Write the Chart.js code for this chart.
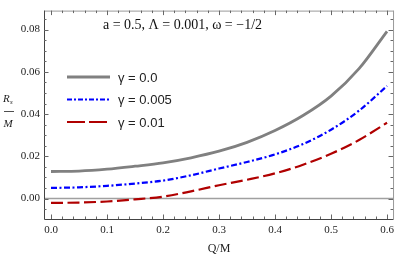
<!DOCTYPE html>
<html>
<head>
<meta charset="utf-8">
<script src="https://cdn.jsdelivr.net/npm/chart.js@4.4.1/dist/chart.umd.min.js"></script>
<style>
html,body{margin:0;padding:0;background:#fff;}
#wrap{width:399px;height:256px;position:relative;}
</style>
</head>
<body>
<div id="wrap"><canvas id="c" width="399" height="256"></canvas></div>
<script>
// ---- data ----
const qValues   = [0, 0.05, 0.1, 0.15, 0.2, 0.25, 0.3, 0.35, 0.4, 0.45, 0.5, 0.55, 0.6];
const gamma0    = [0.0128, 0.0130, 0.0139, 0.0153, 0.0169, 0.0193, 0.0224, 0.0266, 0.0322, 0.0393, 0.0485, 0.0615, 0.0792];
const gamma005  = [0.0050, 0.0053, 0.0060, 0.0071, 0.0085, 0.0110, 0.0142, 0.0173, 0.0209, 0.0258, 0.0326, 0.0416, 0.0533];
const gamma01   = [-0.0021, -0.0019, -0.0014, -0.0004, 0.0009, 0.0034, 0.0063, 0.0089, 0.0119, 0.0160, 0.0212, 0.0277, 0.0359];
const seriesLabels = ['\u03B3 = 0.0', '\u03B3 = 0.005', '\u03B3 = 0.01'];
const xTicks = [0, 0.1, 0.2, 0.3, 0.4, 0.5, 0.6];
const xMinor = [0.02,0.04,0.06,0.08,0.12,0.14,0.16,0.18,0.22,0.24,0.26,0.28,0.32,0.34,0.36,0.38,0.42,0.44,0.46,0.48,0.52,0.54,0.56,0.58];
const yTicks = [0, 0.02, 0.04, 0.06, 0.08];
const yMinor = [-0.005, 0.005, 0.01, 0.015, 0.025, 0.03, 0.035, 0.045, 0.05, 0.055, 0.065, 0.07, 0.075, 0.085];
const titleText = 'a = 0.5, \u039B = 0.001, \u03C9 = \u22121/2';

const pts = arr => qValues.map((q,i)=>({x:q, y:arr[i]}));

const SERIF = '"Liberation Serif", "DejaVu Serif", serif';
const SANS = '"Liberation Sans", Arial, sans-serif';

const framePlugin = {
  id:'frame',
  afterDatasetsDraw(chart){
    const {ctx, chartArea:a, scales:{x,y}} = chart;
    ctx.save();
    ctx.lineWidth = 1;
    ctx.strokeStyle = '#999';
    ctx.beginPath();
    ctx.moveTo(a.left, a.top+0.5); ctx.lineTo(a.right+0.5, a.top+0.5);
    ctx.moveTo(a.right+0.5, a.top); ctx.lineTo(a.right+0.5, a.bottom);
    ctx.stroke();
    ctx.strokeStyle = '#444';
    ctx.beginPath();
    ctx.moveTo(a.left+0.5, a.top); ctx.lineTo(a.left+0.5, a.bottom+0.5);
    ctx.lineTo(a.right+0.5, a.bottom+0.5);
    ctx.stroke();
    const tick = (v, len, axis) => {
      if (axis==='x'){
        const px = Math.round(x.getPixelForValue(v))+0.5;
        ctx.beginPath();
        ctx.moveTo(px, a.bottom); ctx.lineTo(px, a.bottom-len);
        ctx.moveTo(px, a.top); ctx.lineTo(px, a.top+len);
        ctx.stroke();
      } else {
        const py = Math.round(y.getPixelForValue(v))+0.5;
        ctx.beginPath();
        ctx.moveTo(a.left, py); ctx.lineTo(a.left+len, py);
        ctx.moveTo(a.right, py); ctx.lineTo(a.right-len, py);
        ctx.stroke();
      }
    };
    ctx.strokeStyle = '#666';
    ctx.lineWidth = 1;
    xTicks.forEach(v=>tick(v,4.5,'x'));
    xMinor.forEach(v=>tick(v,2.5,'x'));
    yTicks.forEach(v=>tick(v,4.5,'y'));
    yMinor.forEach(v=>tick(v,2.5,'y'));
    ctx.restore();
  },
  beforeDatasetsDraw(chart){
    const {ctx, chartArea:a, scales:{y}} = chart;
    ctx.save();
    ctx.strokeStyle = '#a0a0a0';
    ctx.lineWidth = 1.5;
    const py = y.getPixelForValue(0);
    ctx.beginPath(); ctx.moveTo(a.left, py); ctx.lineTo(a.right, py); ctx.stroke();
    ctx.restore();
  },
  afterDraw(chart){
    const {ctx} = chart;
    ctx.save();
    ctx.fillStyle = '#111';
    ctx.font = '14px ' + SERIF;
    ctx.textBaseline = 'alphabetic';
    ctx.textAlign = 'left';
    ctx.fillText(titleText, 103, 29);
    ctx.font = 'italic 11px ' + SERIF;
    ctx.fillStyle = '#222';
    ctx.fillText('R', 3, 102);
    ctx.font = 'italic 7px ' + SERIF;
    ctx.fillText('s', 10, 104);
    ctx.strokeStyle = '#222'; ctx.lineWidth = 0.8;
    ctx.beginPath(); ctx.moveTo(4, 111.5); ctx.lineTo(14, 111.5); ctx.stroke();
    ctx.font = 'italic 11px ' + SERIF;
    ctx.fillText('M', 3.5, 127);
    ctx.font = '12px ' + SERIF;
    ctx.textAlign = 'center';
    ctx.fillText('Q/M', 219, 252);
    const rows = [77, 99.5, 122];
    chart.data.datasets.forEach((ds,i)=>{
      const yy = rows[i];
      ctx.strokeStyle = ds.borderColor;
      ctx.lineWidth = ds.borderWidth;
      ctx.setLineDash(i===1 ? [5,2,2,2] : (i===2 ? [18,4] : []));
      ctx.beginPath(); ctx.moveTo(67, yy); ctx.lineTo(110, yy); ctx.stroke();
      ctx.setLineDash([]);
      ctx.fillStyle = '#222';
      ctx.font = '13px ' + SANS;
      ctx.textAlign = 'left';
      ctx.textBaseline = 'middle';
      ctx.fillText(ds.label, 118, yy+1);
    });
    ctx.restore();
  }
};

new Chart(document.getElementById('c'), {
  type:'line',
  data:{
    datasets:[
      {label:seriesLabels[0], data:pts(gamma0), borderColor:'#808080', borderWidth:2.8, pointRadius:0, cubicInterpolationMode:'monotone', fill:false},
      {label:seriesLabels[1], data:pts(gamma005), borderColor:'#0000ff', borderWidth:2.2, borderDash:[6,2.5,2,2.5], pointRadius:0, cubicInterpolationMode:'monotone', fill:false},
      {label:seriesLabels[2], data:pts(gamma01), borderColor:'#b00000', borderWidth:2.2, borderDash:[12,4.5], pointRadius:0, cubicInterpolationMode:'monotone', fill:false}
    ]
  },
  options:{
    responsive:false,
    animation:false,
    devicePixelRatio:1,
    layout:{padding:{left:0,right:5,top:4,bottom:0}},
    plugins:{legend:{display:false}, tooltip:{enabled:false}, title:{display:false}},
    scales:{
      x:{
        type:'linear', min:-0.0125, max:0.6107,
        grid:{display:false, drawTicks:false}, border:{display:false},
        afterBuildTicks(s){ s.ticks = xTicks.map(v=>({value:v})); },
        afterFit(s){ s.height = 37; },
        ticks:{padding:5, color:'#222', font:{family:SERIF, size:11}, maxRotation:0, autoSkip:false,
          callback:v=>Number(v).toFixed(1)}
      },
      y:{
        type:'linear', min:-0.0097, max:0.089,
        grid:{display:false, drawTicks:false}, border:{display:false},
        afterBuildTicks(s){ s.ticks = yTicks.map(v=>({value:v})); },
        afterFit(s){ s.width = 44; },
        ticks:{padding:4, color:'#222', font:{family:SERIF, size:11}, autoSkip:false,
          callback:v=>Number(v).toFixed(2)}
      }
    }
  },
  plugins:[framePlugin]
});
</script>
</body>
</html>
